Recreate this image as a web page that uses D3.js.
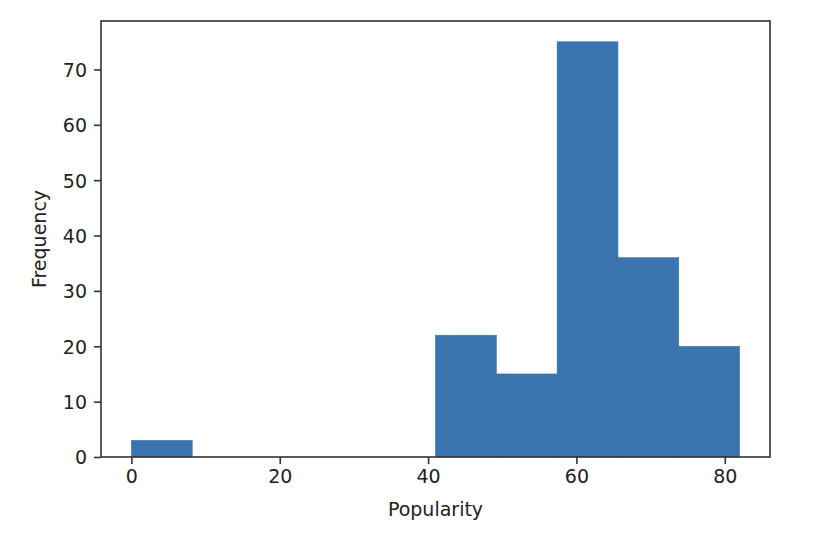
<!DOCTYPE html>
<html>
<head>
  <meta charset="utf-8">
  <title>Popularity histogram</title>
  <style type="text/css">
    body {
      margin: 0;
      background: white;
    }
    text {
      font-family: "DejaVu Sans", sans-serif;
      fill: #222;
    }
    .tick line {
      stroke: #333;
      stroke-width: 1.6;
    }
    .tick text {
      font-size: 19px;
    }
    .label {
      font-size: 19px;
    }
  </style>
</head>
<body>
<script src="https://cdnjs.cloudflare.com/ajax/libs/d3/7.8.5/d3.min.js"></script>
<script>
// histogram bins (10 bins, 0..82)
var binEdges = [0, 8.2, 16.4, 24.6, 32.8, 41, 49.2, 57.4, 65.6, 73.8, 82];
var counts   = [3, 0, 0, 0, 0, 22, 15, 75, 36, 20];
var xTicks   = [0, 20, 40, 60, 80];
var yTicks   = [0, 10, 20, 30, 40, 50, 60, 70];
var xLabel   = 'Popularity';
var yLabel   = 'Frequency';

var width = 818, height = 542;
var margin = {top: 21, right: 48, bottom: 85, left: 101};
var w = width - margin.left - margin.right;
var h = height - margin.top - margin.bottom;

var bins = counts.map(function(c, i){
  return {x0: binEdges[i], x1: binEdges[i + 1], n: c};
});

// matplotlib style 5% padding on x, top only on y
var xMin = binEdges[0], xMax = binEdges[binEdges.length - 1];
var xPad = (xMax - xMin) * 0.05;
var x = d3.scaleLinear()
  .domain([xMin - xPad, xMax + xPad])
  .range([0, w]);

var y = d3.scaleLinear()
  .domain([0, d3.max(counts) * 1.05])
  .range([h, 0]);

var svg = d3.select('body').append('svg')
  .attr('width', width)
  .attr('height', height);

var g = svg.append('g')
  .attr('transform', 'translate(' + margin.left + ',' + margin.top + ')');

//bars (thin stroke in the same colour hides seams between neighbours)
g.selectAll('rect.bar')
  .data(bins.filter(function(d){ return d.n > 0; }))
  .enter().append('rect')
    .attr('class', 'bar')
    .attr('x', function(d){ return x(d.x0); })
    .attr('y', function(d){ return y(d.n); })
    .attr('width', function(d){ return x(d.x1) - x(d.x0); })
    .attr('height', function(d){ return y(0) - y(d.n); })
    .attr('fill', '#3a75af')
    .attr('stroke', '#3a75af')
    .attr('stroke-width', 0.6);

//axes
var xAxis = g.append('g')
  .attr('transform', 'translate(0,' + h + ')')
  .call(d3.axisBottom(x).tickValues(xTicks).tickSize(7).tickPadding(6));
xAxis.select('.domain').remove();

var yAxis = g.append('g')
  .call(d3.axisLeft(y).tickValues(yTicks).tickSize(7).tickPadding(7));
yAxis.select('.domain').remove();
yAxis.selectAll('.tick text').attr('dy', '0.36em');

g.selectAll('.tick text').attr('fill', '#222');

//frame
g.append('rect')
  .attr('width', w)
  .attr('height', h)
  .attr('fill', 'none')
  .attr('stroke', '#333')
  .attr('stroke-width', 1.6);

//axis labels
g.append('text')
  .attr('class', 'label')
  .attr('x', w / 2)
  .attr('y', h + 59)
  .attr('text-anchor', 'middle')
  .text(xLabel);

g.append('text')
  .attr('class', 'label')
  .attr('transform', 'translate(' + (-55) + ',' + (h / 2) + ') rotate(-90)')
  .attr('text-anchor', 'middle')
  .text(yLabel);
</script>
</body>
</html>
